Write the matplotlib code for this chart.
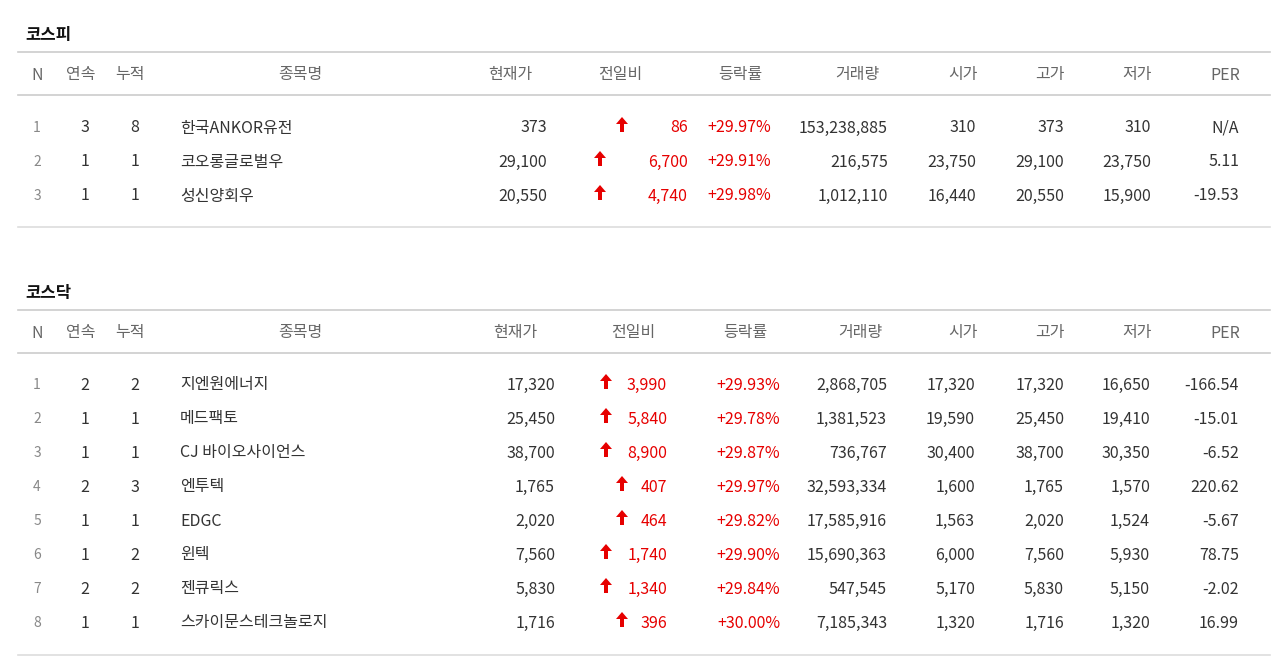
import matplotlib
matplotlib.use("Agg")
import matplotlib.pyplot as plt
from matplotlib.patches import Polygon
from matplotlib import font_manager as fm

cjk = []
for f in fm.findSystemFonts():
    if "CJK" in f or "cjk" in f.lower():
        try:
            fm.fontManager.addfont(f)
            cjk.append(fm.FontProperties(fname=f).get_name())
        except Exception:
            pass
fams = [n for n in ["Noto Sans CJK KR", "Noto Sans CJK JP", "Noto Sans CJK SC", "Noto Sans CJK TC"]
        if n in {f.name for f in fm.fontManager.ttflist}] + cjk + ["DejaVu Sans"]
plt.rcParams["font.family"] = fams

headers = ["N", "연속", "누적", "종목명", "현재가", "전일비", "등락률", "거래량", "시가", "고가", "저가", "PER"]

kospi_n = [1, 2, 3]
kospi_streak = [3, 1, 1]
kospi_total = [8, 1, 1]
kospi_names = ["한국ANKOR유전", "코오롱글로벌우", "성신양회우"]
kospi_price = ["373", "29,100", "20,550"]
kospi_change = ["86", "6,700", "4,740"]
kospi_rate = ["+29.97%", "+29.91%", "+29.98%"]
kospi_volume = ["153,238,885", "216,575", "1,012,110"]
kospi_open = ["310", "23,750", "16,440"]
kospi_high = ["373", "29,100", "20,550"]
kospi_low = ["310", "23,750", "15,900"]
kospi_per = ["N/A", "5.11", "-19.53"]

kosdaq_n = [1, 2, 3, 4, 5, 6, 7, 8]
kosdaq_streak = [2, 1, 1, 2, 1, 1, 2, 1]
kosdaq_total = [2, 1, 1, 3, 1, 2, 2, 1]
kosdaq_names = ["지엔원에너지", "메드팩토", "CJ 바이오사이언스", "엔투텍", "EDGC", "윈텍", "젠큐릭스", "스카이문스테크놀로지"]
kosdaq_price = ["17,320", "25,450", "38,700", "1,765", "2,020", "7,560", "5,830", "1,716"]
kosdaq_change = ["3,990", "5,840", "8,900", "407", "464", "1,740", "1,340", "396"]
kosdaq_rate = ["+29.93%", "+29.78%", "+29.87%", "+29.97%", "+29.82%", "+29.90%", "+29.84%", "+30.00%"]
kosdaq_volume = ["2,868,705", "1,381,523", "736,767", "32,593,334", "17,585,916", "15,690,363", "547,545", "7,185,343"]
kosdaq_open = ["17,320", "19,590", "30,400", "1,600", "1,563", "6,000", "5,170", "1,320"]
kosdaq_high = ["17,320", "25,450", "38,700", "1,765", "2,020", "7,560", "5,830", "1,716"]
kosdaq_low = ["16,650", "19,410", "30,350", "1,570", "1,524", "5,930", "5,150", "1,320"]
kosdaq_per = ["-166.54", "-15.01", "-6.52", "220.62", "-5.67", "78.75", "-2.02", "16.99"]

fig = plt.figure(figsize=(12.8, 6.7), dpi=100)
ax = fig.add_axes([0, 0, 1, 1])
ax.set_xlim(0, 1280)
ax.set_ylim(670, 0)
ax.axis("off")

DARK = "#333333"
GRAY = "#666666"
RED = "#e60000"
FS = 11.5

def arrow(x, y):
    pts = [(x - 2, y + 7), (x - 2, y - 1), (x - 6, y - 1), (x, y - 8),
           (x + 6, y - 1), (x + 2, y - 1), (x + 2, y + 7)]
    ax.add_patch(Polygon(pts, closed=True, color=RED, lw=0))

def section(title, ty, top, hy, rowy, bottom, hx, rx, arrow_x, data):
    ax.text(25, ty, title, fontsize=12, color="#111", va="center", ha="left", fontweight="bold")
    for y, c in [(top, "#cccccc"), (top + 43, "#cccccc"), (bottom, "#dddddd")]:
        ax.plot([18, 1270], [y, y], color=c, lw=1.2)
    for h, x in zip(headers, hx):
        ax.text(x, hy, h, fontsize=FS, color=GRAY, ha="center", va="center")
    n, st, tot, nm, pr, ch, rt, vol, op, hi, lo, per = data
    for i, y in enumerate(rowy):
        ax.text(37, y, str(n[i]), fontsize=10, color="#888", ha="center", va="center")
        ax.text(85, y, str(st[i]), fontsize=FS, color=DARK, ha="center", va="center")
        ax.text(135, y, str(tot[i]), fontsize=FS, color=DARK, ha="center", va="center")
        ax.text(180, y, nm[i], fontsize=FS, color=DARK, ha="left", va="center")
        ax.text(rx[0], y, pr[i], fontsize=FS, color=DARK, ha="right", va="center")
        arrow(arrow_x[0] if len(ch[i]) >= 4 else arrow_x[1], y - 3)
        ax.text(rx[1], y, ch[i], fontsize=FS, color=RED, ha="right", va="center")
        ax.text(rx[2], y, rt[i], fontsize=FS, color=RED, ha="right", va="center")
        for j, col in enumerate([vol, op, hi, lo, per]):
            ax.text(rx[3 + j], y, col[i], fontsize=FS, color=DARK, ha="right", va="center")

section("코스피", 35, 52, 75, [128, 162, 196], 227,
        [37, 81, 130, 300, 510, 620, 740, 857, 963, 1050, 1137, 1225],
        [547, 688, 771, 888, 976, 1064, 1151, 1239], (600, 622),
        (kospi_n, kospi_streak, kospi_total, kospi_names, kospi_price, kospi_change,
         kospi_rate, kospi_volume, kospi_open, kospi_high, kospi_low, kospi_per))

section("코스닥", 293, 310, 333, [385, 419, 453, 487, 521, 555, 589, 623], 655,
        [37, 81, 130, 300, 515, 633, 745, 860, 963, 1050, 1137, 1225],
        [555, 667, 780, 887, 975, 1064, 1150, 1239], (606, 622),
        (kosdaq_n, kosdaq_streak, kosdaq_total, kosdaq_names, kosdaq_price, kosdaq_change,
         kosdaq_rate, kosdaq_volume, kosdaq_open, kosdaq_high, kosdaq_low, kosdaq_per))

fig.savefig("out.png", dpi=100, facecolor="white")
